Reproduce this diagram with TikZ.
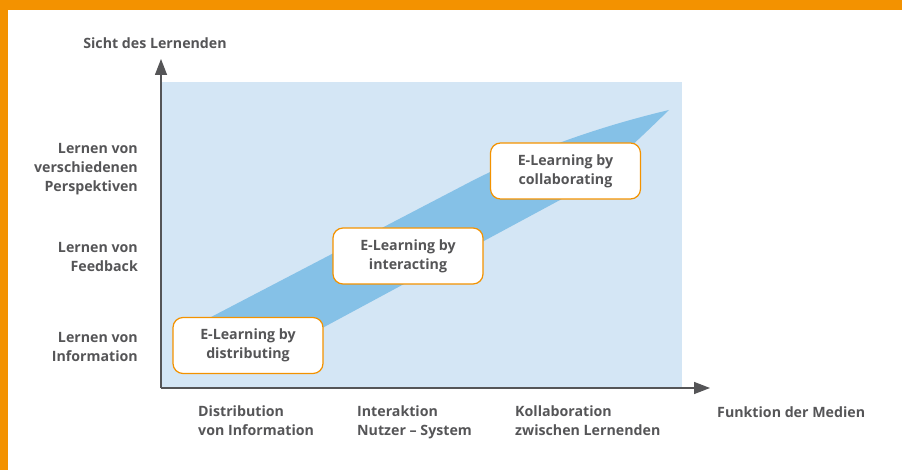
\documentclass[tikz,border=0pt]{standalone}
\usepackage{fontspec}
\setmainfont{Open Sans}
\usepackage{tikz}
\usetikzlibrary{arrows.meta}

\definecolor{frameorange}{HTML}{F39200}
\definecolor{paleblue}{HTML}{D4E6F5}
\definecolor{bandblue}{HTML}{85C1E7}
\definecolor{textgray}{HTML}{555557}

\begin{document}
\begin{tikzpicture}[x=1pt,y=-1pt,
  every node/.style={text=textgray, font=\bfseries\fontsize{14.2}{19}\selectfont, inner sep=0pt},
  stage/.style={draw=frameorange, line width=1.2pt, fill=white, rounded corners=10pt,
    minimum width=150pt, minimum height=56pt, align=center},
  axis/.style={draw=textgray, line width=1.4pt, -{Triangle[length=16pt,width=12pt]}}]
\useasboundingbox (0,0) rectangle (902,470);

% frame on top and left
\fill [frameorange] (0,0) rectangle (902,10);
\fill [frameorange] (0,0) rectangle (8,470);

% field
\fill [paleblue] (162,82) rectangle (682,388);

% band
\fill [bandblue] (190,328) -- (470,182)
  .. controls (540,146) and (610,124) .. (669,110)
  .. controls (640,138) and (600,178) .. (560,200)
  -- (300,340) -- cycle;

% axes
\coordinate (origin) at (161,388);
\coordinate (ytip) at (161,59);
\coordinate (xtip) at (710,388);
\draw [axis] (origin) -- (ytip);
\draw [axis] (origin) -- (xtip);

\node (ytitle) at (155,43) {Sicht des Lernenden};
\node [anchor=west] (xtitle) at (717,412) {Funktion der Medien};

\foreach \txt/\y [count=\i] in
  {{Lernen von\\verschiedenen\\Perspektiven}/169,
   {Lernen von\\Feedback}/257,
   {Lernen von\\Information}/347}
  \node [anchor=east, align=right] (ylab\i) at (138,\y) {\txt};

\foreach \txt/\x [count=\i] in
  {{Distribution\\von Information}/198,
   {Interaktion\\Nutzer -- System}/357,
   {Kollaboration\\zwischen Lernenden}/515}
  \node [anchor=north west, align=left] (xlab\i) at (\x,406) {\txt};

% stages
\foreach \txt/\pos [count=\i] in
  {{E-Learning by\\distributing}/{(248,345.5)},
   {E-Learning by\\interacting}/{(408,256)},
   {E-Learning by\\collaborating}/{(565.5,171)}}
  \node [stage] (stage\i) at \pos {\txt};

\end{tikzpicture}
\end{document}
